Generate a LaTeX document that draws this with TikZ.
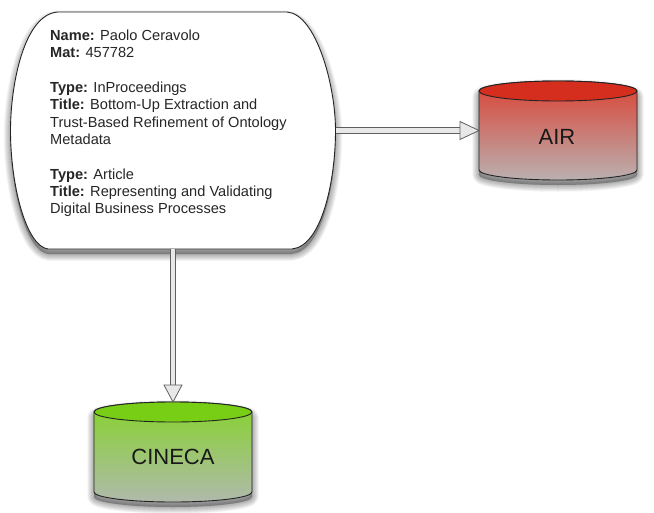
\documentclass[tikz,border=0pt]{standalone}
\usepackage{fontspec}
\setmainfont{Liberation Sans}
\usetikzlibrary{arrows.meta}
\definecolor{redtop}{RGB}{214,46,30}
\definecolor{redlow}{RGB}{186,176,176}
\definecolor{greentop}{RGB}{120,206,20}
\definecolor{greenlow}{RGB}{176,186,172}
\definecolor{edgeink}{RGB}{35,35,35}
\definecolor{shaftfill}{RGB}{232,232,232}
\definecolor{shaftedge}{RGB}{95,95,95}
\newcommand{\softshadow}[1]{%
  \foreach \w in {1,...,9}{
    \fill[black,opacity=.04,draw=black,line width=\w*1.5pt,line join=round,yshift=-5pt] #1;
  }}
\newcommand{\cardpath}{(58,12) -- (287,12) .. controls (316,14) and (335.5,85) .. (335.5,130.5)
  .. controls (335.5,180) and (322,246) .. (292,249) -- (48,249)
  .. controls (26,246) and (10.5,185) .. (10.5,130.5)
  .. controls (10.5,85) and (24,14) .. (58,12) -- cycle}
% #1 left, #2 right, #3 ellipse centre y, #4 side bottom y, #5 top colour, #6 low colour
\newcommand{\drum}[6]{%
  \pgfmathsetmacro{\rx}{(#2-#1)/2}
  \softshadow{(#1,#3) -- (#1,#4) arc[start angle=180,end angle=0,x radius=\rx,y radius=10] -- (#2,#3) arc[start angle=0,end angle=-180,x radius=\rx,y radius=10] -- cycle}
  \shade[top color=#5!90!white,bottom color=#6,draw=edgeink,line width=.9pt]
    (#1,#3) -- (#1,#4) arc[start angle=180,end angle=0,x radius=\rx,y radius=10] -- (#2,#3) arc[start angle=0,end angle=-180,x radius=\rx,y radius=10] -- cycle;
  \fill[#5,draw=edgeink,line width=.9pt] ({(#1+#2)/2},#3) ellipse[x radius=\rx,y radius=10];
}
\tikzset{
  x=1pt,y=-1pt,
  anchorbox/.style={inner sep=0pt,outer sep=0pt,rectangle},
  cardtext/.style={inner sep=0pt,align=left,anchor=north west,font=\fontsize{14.6}{17.35}\selectfont,text=black!85},
  drumlabel/.style={inner sep=0pt,font=\fontsize{22}{24}\selectfont,text=black!90},
  feed/.style={draw=shaftedge,double=shaftfill,double distance=4.5pt,line width=.9pt},
  feedtip/.style={draw=shaftedge,fill=shaftfill,line width=.8pt,line join=miter},
}
\begin{document}
\begin{tikzpicture}
\useasboundingbox (0,0) rectangle (654,512);
% shapes
\softshadow{\cardpath}
\fill[white,draw=edgeink,line width=.9pt] \cardpath;
\drum{479}{637}{91}{170}{redtop}{redlow}
\drum{94}{252}{412}{492}{greentop}{greenlow}
% named anchors
\node[anchorbox,minimum width=325pt,minimum height=237pt] (card) at (173,130.5) {};
\node[anchorbox,minimum width=158pt,minimum height=99pt] (air) at (558,130.5) {};
\node[anchorbox,minimum width=158pt,minimum height=100pt] (cineca) at (173,452) {};
% text
\node[cardtext] (cardbody) at (50,29.5) {\textbf{Name:} Paolo Ceravolo\\
\textbf{Mat:} 457782\\[17.35pt]
\textbf{Type:} InProceedings\\
\textbf{Title:} Bottom-Up Extraction and\\
Trust-Based Refinement of Ontology\\
Metadata\\[17.35pt]
\textbf{Type:} Article\\
\textbf{Title:} Representing and Validating\\
Digital Business Processes};
\node[drumlabel] (airlabel) at (557,137) {AIR};
\node[drumlabel] (cinecalabel) at (173,457) {CINECA};
% connectors
\draw[feed,shorten >=18pt] (card.east) -- (air.west);
\draw[feed,shorten >=17pt] (card.south) -- (cineca.north);
\path (air.west) +(-19,-9) coordinate (ah1) +(-19,9) coordinate (ah2);
\path (cineca.north) +(-9,-17) coordinate (ch1) +(9,-17) coordinate (ch2);
\draw[feedtip] (air.west) -- (ah1) -- (ah2) -- cycle;
\draw[feedtip] (cineca.north) -- (ch1) -- (ch2) -- cycle;
\end{tikzpicture}
\end{document}
